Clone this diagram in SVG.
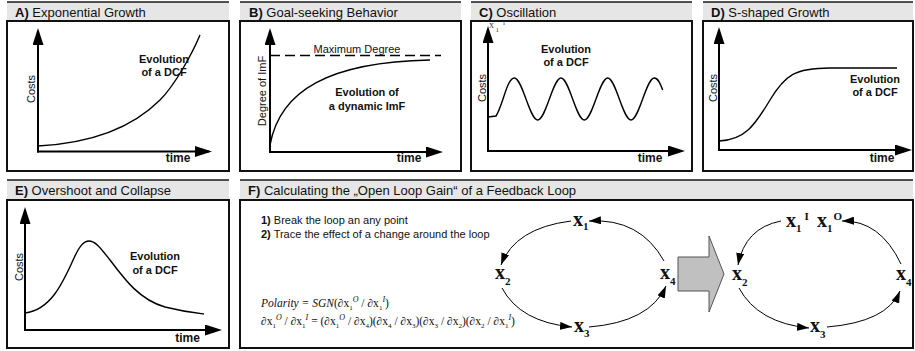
<svg xmlns="http://www.w3.org/2000/svg" width="915" height="351" viewBox="0 0 915 351">
<style>
.hdr{fill:#e6e6e6;stroke:none}
.hl{stroke:#1a1a1a;stroke-width:1.5}
.body{fill:#fff;stroke:#111;stroke-width:2}
.ttl{font-family:"Liberation Sans",Arial,sans-serif;font-size:13px;fill:#111}
.b{font-weight:bold}
.ax{stroke:#000;stroke-width:2;fill:none;marker-end:url(#ah)}
.cv{stroke:#000;stroke-width:1.4;fill:none}
.al{font-family:"Liberation Sans",Arial,sans-serif;font-size:11px;fill:#111;text-anchor:middle}
.ev{font-family:"Liberation Sans",Arial,sans-serif;font-size:11px;font-weight:bold;fill:#111;text-anchor:middle}
.tm{font-family:"Liberation Sans",Arial,sans-serif;font-size:12px;font-weight:bold;fill:#111;text-anchor:middle}
.arc{stroke:#000;stroke-width:1;fill:none;marker-end:url(#sh)}
.xv{font-family:"Liberation Serif","Times New Roman",serif;font-weight:bold;font-size:20px;fill:#111}
.xs{font-size:11px}
.fm{font-family:"Liberation Serif","Times New Roman",serif;font-size:11.5px;fill:#111}
.it{font-style:italic}
.sb{font-size:7px}
.sp{font-size:8px;font-style:italic}
.st{font-family:"Liberation Sans",Arial,sans-serif;font-size:11px;fill:#111}
.gh{font-family:"Liberation Serif","Times New Roman",serif;fill:#444}
</style>
<defs>
<marker id="ah" markerUnits="userSpaceOnUse" markerWidth="17" markerHeight="11" refX="14" refY="5.5" orient="auto"><path d="M0,0 L17,5.5 L0,11 Z" fill="#000"/></marker>
<marker id="sh" markerUnits="userSpaceOnUse" markerWidth="12" markerHeight="8" refX="12" refY="4" orient="auto"><path d="M0,0 L12,4 L0,8 Z" fill="#000"/></marker>
</defs>

<g id="panelA">
<rect class="hdr" x="7" y="2" width="222" height="19"/>
<line class="hl" x1="7" y1="2" x2="229" y2="2"/>
<rect class="body" x="7" y="21" width="222" height="150"/>
<text class="ttl" x="15" y="16.5"><tspan class="b">A)</tspan> Exponential Growth</text>
<line class="ax" x1="38" y1="152.5" x2="38" y2="31"/>
<line class="ax" x1="37" y1="151.5" x2="209" y2="151.5"/>
<path class="cv" d="M38,146 C95,143 135,125 160,100 C175,85 192,54 200,35"/>
<text class="al" transform="translate(35,89) rotate(-90)">Costs</text>
<text class="ev" x="164" y="62.5">Evolution</text>
<text class="ev" x="164" y="76">of a DCF</text>
<text class="tm" x="178" y="162">time</text>
</g>

<g id="panelB">
<rect class="hdr" x="240" y="2" width="221" height="19"/>
<line class="hl" x1="240" y1="2" x2="461" y2="2"/>
<rect class="body" x="240" y="21" width="221" height="150"/>
<text class="ttl" x="249" y="16.5"><tspan class="b">B)</tspan> Goal-seeking Behavior</text>
<line class="ax" x1="270" y1="153" x2="270" y2="31"/>
<line class="ax" x1="269" y1="152" x2="440" y2="152"/>
<line x1="270" y1="55.5" x2="441" y2="55.5" stroke="#000" stroke-width="1.4" stroke-dasharray="10 5"/>
<text class="al" x="357" y="53">Maximum Degree</text>
<path class="cv" d="M270,145 C280,90 330,62 430,60"/>
<text class="al" transform="translate(265.5,91) rotate(-90)">Degree of ImF</text>
<text class="ev" x="367" y="96">Evolution of</text>
<text class="ev" x="367" y="110">a dynamic ImF</text>
<text class="tm" x="409" y="162">time</text>
</g>

<g id="panelC">
<rect class="hdr" x="471" y="2" width="221" height="19"/>
<line class="hl" x1="471" y1="2" x2="692" y2="2"/>
<rect class="body" x="471" y="21" width="221" height="150"/>
<text class="ttl" x="479" y="16.5"><tspan class="b">C)</tspan> Oscillation</text>
<line class="ax" x1="488" y1="152" x2="488" y2="29"/>
<line class="ax" x1="487" y1="151" x2="682" y2="151"/>
<text class="gh" x="489" y="27.5" font-size="10">x</text>
<text class="gh" x="495.5" y="32" font-size="7">1</text>
<text class="gh" x="503" y="25" font-size="6">I</text>
<path class="cv" d="M488,117 L496,116 C503,105 507,78 514.3,78 C522.5,78 529.5,120 537.7,120 S552.8,78 561,78 S576.1,120 584.3,120 S599.5,78 607.7,78 S622.8,120 631,120 S646.1,78 654.3,78 C658.3,78 660.5,84 662.7,90"/>
<text class="al" transform="translate(486,88) rotate(-90)">Costs</text>
<text class="ev" x="566" y="53">Evolution</text>
<text class="ev" x="566" y="66">of a DCF</text>
<text class="tm" x="650" y="162">time</text>
</g>

<g id="panelD">
<rect class="hdr" x="703" y="2" width="210" height="19"/>
<line class="hl" x1="703" y1="2" x2="913" y2="2"/>
<rect class="body" x="703" y="21" width="210" height="150"/>
<text class="ttl" x="711" y="16.5"><tspan class="b">D)</tspan> S-shaped Growth</text>
<line class="ax" x1="719" y1="151" x2="719" y2="30"/>
<line class="ax" x1="718" y1="150" x2="909" y2="150"/>
<path class="cv" d="M719,141 C745,140 755,125 770,100 S795,68 830,68 L897,68"/>
<text class="al" transform="translate(717,88) rotate(-90)">Costs</text>
<text class="ev" x="875" y="83">Evolution</text>
<text class="ev" x="875" y="96">of a DCF</text>
<text class="tm" x="882" y="162">time</text>
</g>

<g id="panelE">
<rect class="hdr" x="7" y="180" width="222" height="20"/>
<line class="hl" x1="7" y1="180" x2="229" y2="180"/>
<rect class="body" x="7" y="200" width="222" height="148"/>
<text class="ttl" x="15" y="195"><tspan class="b">E)</tspan> Overshoot and Collapse</text>
<line class="ax" x1="25" y1="331" x2="25" y2="210"/>
<line class="ax" x1="24" y1="330" x2="219" y2="330"/>
<path class="cv" d="M25,313 C50,310 62,285 74,258 C80,245 84,241 89,241 C96,241 102,250 110,260 C125,280 140,300 165,307 C185,312 195,313 204,314"/>
<text class="al" transform="translate(22.5,267) rotate(-90)">Costs</text>
<text class="ev" x="155" y="260">Evolution</text>
<text class="ev" x="155" y="274">of a DCF</text>
<text class="tm" x="187.5" y="341.5">time</text>
</g>

<g id="panelF">
<rect class="hdr" x="240" y="180" width="673" height="20"/>
<line class="hl" x1="240" y1="180" x2="913" y2="180"/>
<rect class="body" x="240" y="200" width="673" height="148"/>
<text class="ttl" x="248" y="195"><tspan class="b">F)</tspan> Calculating the „Open Loop Gain“ of a Feedback Loop</text>
<text class="st" x="261" y="224"><tspan class="b">1)</tspan> Break the loop an any point</text>
<text class="st" x="261" y="238"><tspan class="b">2)</tspan> Trace the effect of a change around the loop</text>
<text class="fm" x="261" y="307"><tspan class="it">Polarity = SGN</tspan>(∂x<tspan class="sb" dy="3">1</tspan><tspan class="sp" dy="-8">O</tspan><tspan dy="5"> / ∂x</tspan><tspan class="sb" dy="3">1</tspan><tspan class="sp" dy="-8">I</tspan><tspan dy="5">)</tspan></text>
<text class="fm" x="261" y="325">∂x<tspan class="sb" dy="3">1</tspan><tspan class="sp" dy="-8">O</tspan><tspan dy="5"> / ∂x</tspan><tspan class="sb" dy="3">1</tspan><tspan class="sp" dy="-8">I</tspan><tspan dy="5"> = (∂x</tspan><tspan class="sb" dy="3">1</tspan><tspan class="sp" dy="-8">O</tspan><tspan dy="5"> / ∂x</tspan><tspan class="sb" dy="3">4</tspan><tspan dy="-3">)(∂x</tspan><tspan class="sb" dy="3">4</tspan><tspan dy="-3"> / ∂x</tspan><tspan class="sb" dy="3">3</tspan><tspan dy="-3">)(∂x</tspan><tspan class="sb" dy="3">3</tspan><tspan dy="-3"> / ∂x</tspan><tspan class="sb" dy="3">2</tspan><tspan dy="-3">)(∂x</tspan><tspan class="sb" dy="3">2</tspan><tspan dy="-3"> / ∂x</tspan><tspan class="sb" dy="3">1</tspan><tspan class="sp" dy="-8">I</tspan><tspan dy="5">)</tspan></text>
<polygon points="678,257 709,257 709,236 724,274 709,312 709,291 678,291" fill="#c0c0c0" stroke="#555" stroke-width="1"/>
</g>

<g id="connectors">
<path class="arc" d="M571,221 Q515,228 501,265"/>
<path class="arc" d="M502,288 Q520,322 572,327"/>
<path class="arc" d="M589,327 Q650,322 666,286"/>
<path class="arc" d="M664,261 Q640,218 589,221"/>
<path class="arc" d="M781,221 Q745,228 738,265"/>
<path class="arc" d="M739,288 Q758,323 809,328"/>
<path class="arc" d="M827,327 Q887,322 900,291"/>
<path class="arc" d="M901,264 Q880,220 842,221"/>
</g>

<g id="nodeL1"><text class="xv" x="573" y="226">x<tspan class="xs" dy="4">1</tspan></text></g>
<g id="nodeL2"><text class="xv" x="495" y="279">x<tspan class="xs" dy="6">2</tspan></text></g>
<g id="nodeL3"><text class="xv" x="574" y="332">x<tspan class="xs" dy="5">3</tspan></text></g>
<g id="nodeL4"><text class="xv" x="660" y="279">x<tspan class="xs" dy="6">4</tspan></text></g>
<g id="nodeR1I"><text class="xv" x="786" y="227">x<tspan class="xs" dy="5">1</tspan><tspan class="xs" dx="3" dy="-12">I</tspan></text></g>
<g id="nodeR1O"><text class="xv" x="817" y="227">x<tspan class="xs" dy="5">1</tspan><tspan class="xs" dx="1" dy="-12">O</tspan></text></g>
<g id="nodeR2"><text class="xv" x="732" y="280">x<tspan class="xs" dy="6">2</tspan></text></g>
<g id="nodeR3"><text class="xv" x="810" y="332">x<tspan class="xs" dy="6">3</tspan></text></g>
<g id="nodeR4"><text class="xv" x="896" y="280">x<tspan class="xs" dy="6">4</tspan></text></g>
</svg>
